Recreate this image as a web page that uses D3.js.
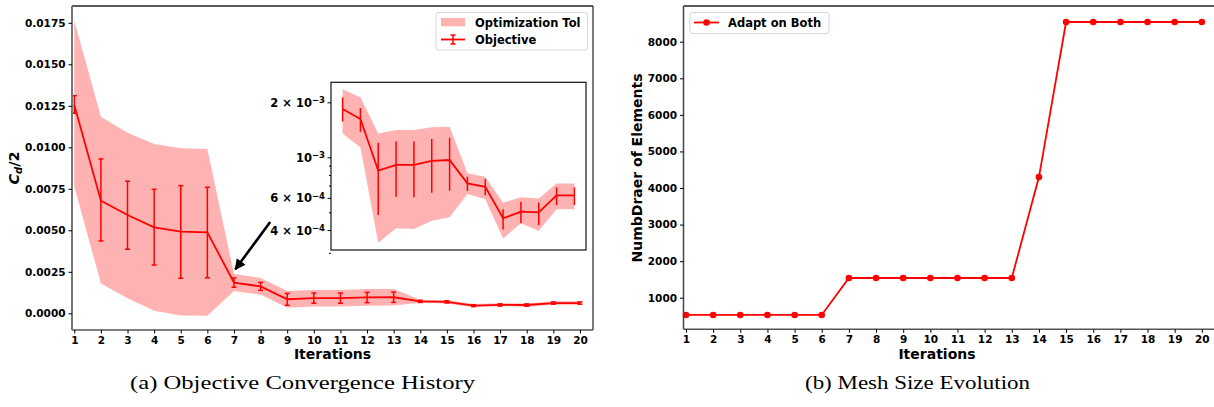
<!DOCTYPE html>
<html>
<head>
<meta charset="utf-8">
<style type="text/css">
    body { margin: 0; background: #fff; }
    svg { display: block; }
    text { font-family: "DejaVu Sans", sans-serif; font-weight: bold; fill: #000; }
    .tick text { font-size: 10.5px; }
    .domain { display: none; }
    .tick line { stroke: #000; stroke-width: 1; }
    .caption { font-family: "Liberation Serif", "DejaVu Serif", serif; font-weight: normal; font-size: 18px; }
</style>
<script src="https://d3js.org/d3.v7.min.js"></script>
</head>
<body>
<svg id="fig" width="1214" height="407"></svg>
<script type="text/javascript">
// values
const iterations = [1, 2, 3, 4, 5, 6, 7, 8, 9, 10, 11, 12, 13, 14, 15, 16, 17, 18, 19, 20];
const objective = [0.01255, 0.00678, 0.00592, 0.00518, 0.00492, 0.00488, 0.00184, 0.00162, 0.000845, 0.00091,
                   0.00091, 0.000955, 0.000967, 0.00072, 0.00069, 0.000464, 0.000504, 0.0005, 0.000619, 0.000619];
const errLow = [0.01205, 0.00436, 0.00386, 0.00291, 0.00211, 0.00214, 0.00157, 0.00138, 0.000483, 0.000608,
                0.000604, 0.00064, 0.000656, 0.000654, 0.00062, 0.000403, 0.000435, 0.000426, 0.000548, 0.000548];
const errHigh = [0.01311, 0.0093, 0.00796, 0.00747, 0.00769, 0.00759, 0.00213, 0.00186, 0.0012, 0.00122,
                 0.00122, 0.00126, 0.00128, 0.000783, 0.00076, 0.00052, 0.000571, 0.000566, 0.000685, 0.000685];
const tolLow = [0.00763, 0.0018, 0.0009, 0.00016, -0.00014, -0.00015, 0.00135, 0.00113, 0.000341, 0.000409,
                0.000405, 0.00045, 0.00047, 0.00063, 0.00059, 0.00036, 0.000435, 0.000396, 0.00052, 0.00052];
const tolHigh = [0.01763, 0.01184, 0.01088, 0.0102, 0.00994, 0.0099, 0.00236, 0.00213, 0.00135, 0.00141,
                 0.00141, 0.00146, 0.00147, 0.000817, 0.000783, 0.000565, 0.000604, 0.000596, 0.00072, 0.00072];
const numElements = [530, 530, 530, 530, 530, 530, 1540, 1540, 1540, 1540, 1540, 1540, 1540, 4300, 8540, 8540,
                     8540, 8540, 8540, 8540];

const cdTicks = [0, 0.0025, 0.005, 0.0075, 0.01, 0.0125, 0.015, 0.0175];
const insetTicks = [0.0004, 0.0006, 0.001, 0.002];
const insetTickLabels = [["4 \u00d7 10", "\u22124"], ["6 \u00d7 10", "\u22124"], ["10", "\u22123"], ["2 \u00d7 10", "\u22123"]];
const insetMinor = [0.0003, 0.0005, 0.0007, 0.0008, 0.0009];
const elemTicks = [1000, 2000, 3000, 4000, 5000, 6000, 7000, 8000];

const rows = iterations.map((it, i) => ({
    it: it, v: objective[i], lo: errLow[i], hi: errHigh[i], tlo: tolLow[i], thi: tolHigh[i], n: numElements[i]
}));
const insetRows = rows.filter(d => d.it >= 7);

const svg = d3.select('#fig');
const RED = '#ff0000';

function frame(g, x0, x1, y0, y1) {
    g.append('line').attr('x1', x0).attr('x2', x1).attr('y1', y0).attr('y2', y0).attr('stroke', '#222').attr('stroke-width', 1.3);
    g.append('line').attr('x1', x1).attr('x2', x1).attr('y1', y0).attr('y2', y1).attr('stroke', '#333').attr('stroke-width', 1.3);
    g.append('line').attr('x1', x0).attr('x2', x1).attr('y1', y1).attr('y2', y1).attr('stroke', '#555').attr('stroke-width', 1.6);
    g.append('line').attr('x1', x0).attr('x2', x0).attr('y1', y0).attr('y2', y1).attr('stroke', '#777').attr('stroke-width', 2);
}

/* ---------- panel (a) ---------- */
const xA = d3.scaleLinear().domain([0.914, 20.49]).range([72, 593]);
const yA = d3.scaleLinear().domain([-0.001006, 0.018512]).range([330, 6]);
const gA = svg.append('g');

gA.append('path')
    .datum(rows)
    .attr('fill', RED).attr('fill-opacity', 0.3)
    .attr('d', d3.area().x(d => xA(d.it)).y0(d => yA(d.tlo)).y1(d => yA(d.thi)));

gA.selectAll('line.err').data(rows).enter().append('line')
    .attr('class', 'err')
    .attr('x1', d => xA(d.it)).attr('x2', d => xA(d.it))
    .attr('y1', d => yA(d.lo)).attr('y2', d => yA(d.hi))
    .attr('stroke', RED).attr('stroke-width', 1.5);
['lo', 'hi'].forEach(k => {
    gA.selectAll('line.cap' + k).data(rows).enter().append('line')
        .attr('class', 'cap' + k)
        .attr('x1', d => xA(d.it) - 2.5).attr('x2', d => xA(d.it) + 2.5)
        .attr('y1', d => yA(d[k])).attr('y2', d => yA(d[k]))
        .attr('stroke', RED).attr('stroke-width', 1.5);
});
gA.append('path')
    .datum(rows)
    .attr('fill', 'none').attr('stroke', RED).attr('stroke-width', 1.8)
    .attr('d', d3.line().x(d => xA(d.it)).y(d => yA(d.v)));

frame(gA, 72, 593, 6, 330);

gA.append('g').attr('transform', 'translate(0,330)')
    .call(d3.axisBottom(xA).tickValues(iterations).tickFormat(d3.format('d')).tickSize(3.5).tickPadding(3));
gA.append('g').attr('transform', 'translate(72,0)')
    .call(d3.axisLeft(yA).tickValues(cdTicks).tickFormat(d3.format('.4f')).tickSize(3.5).tickPadding(3));

gA.append('text').attr('x', 332.5).attr('y', 359).attr('text-anchor', 'middle')
    .style('font-size', '14px').text('Iterations');
const yl = gA.append('text').attr('transform', 'translate(19,168) rotate(-90)').attr('text-anchor', 'middle')
    .style('font-size', '14.5px');
yl.append('tspan').style('font-style', 'italic').text('C');
yl.append('tspan').style('font-style', 'italic').style('font-size', '10px').attr('dy', 3).text('d');
yl.append('tspan').attr('dy', -3).text('/2');

// annotation arrow pointing at iteration 7
svg.append('defs').append('marker')
    .attr('id', 'head').attr('viewBox', '0 0 10 10').attr('refX', 9).attr('refY', 5)
    .attr('markerWidth', 4.2).attr('markerHeight', 4.2).attr('orient', 'auto')
    .append('path').attr('d', 'M0,0 L10,5 L0,10 z').attr('fill', '#000');
gA.append('line')
    .attr('x1', xA(8.36)).attr('y1', yA(0.0055))
    .attr('x2', xA(7.05)).attr('y2', yA(0.00265))
    .attr('stroke', '#000').attr('stroke-width', 2.6).attr('marker-end', 'url(#head)');

// legend (a)
const legA = gA.append('g');
legA.append('rect').attr('x', 436).attr('y', 12.5).attr('width', 151.5).attr('height', 37.5).attr('rx', 2.5)
    .attr('fill', '#fff').attr('fill-opacity', 0.8).attr('stroke', '#d6d6d6');
legA.append('rect').attr('x', 441).attr('y', 18).attr('width', 24).attr('height', 8.3)
    .attr('fill', RED).attr('fill-opacity', 0.3);
legA.append('text').attr('x', 475).attr('y', 26.5).style('font-size', '11.5px').text('Optimization Tol');
legA.append('line').attr('x1', 441).attr('x2', 465).attr('y1', 39.5).attr('y2', 39.5).attr('stroke', RED).attr('stroke-width', 1.8);
legA.append('line').attr('x1', 453).attr('x2', 453).attr('y1', 35).attr('y2', 44).attr('stroke', RED).attr('stroke-width', 1.5);
legA.append('line').attr('x1', 450.5).attr('x2', 455.5).attr('y1', 35).attr('y2', 35).attr('stroke', RED).attr('stroke-width', 1.5);
legA.append('line').attr('x1', 450.5).attr('x2', 455.5).attr('y1', 44).attr('y2', 44).attr('stroke', RED).attr('stroke-width', 1.5);
legA.append('text').attr('x', 475).attr('y', 43.5).style('font-size', '11.5px').text('Objective');

/* ---------- inset (log scale) ---------- */
const xI = d3.scaleLinear().domain([6.35, 20.65]).range([331, 586]);
const yI = d3.scaleLog().domain([0.000311, 0.002574]).range([250, 82.3]);
const gI = gA.append('g');
gI.append('rect').attr('x', 331).attr('y', 82.3).attr('width', 255).attr('height', 167.7).attr('fill', '#fff');
gI.append('path')
    .datum(insetRows)
    .attr('fill', RED).attr('fill-opacity', 0.3)
    .attr('d', d3.area().x(d => xI(d.it)).y0(d => yI(d.tlo)).y1(d => yI(d.thi)));
gI.selectAll('line.err').data(insetRows).enter().append('line')
    .attr('class', 'err')
    .attr('x1', d => xI(d.it)).attr('x2', d => xI(d.it))
    .attr('y1', d => yI(d.lo)).attr('y2', d => yI(d.hi))
    .attr('stroke', RED).attr('stroke-width', 1.5);
gI.append('path')
    .datum(insetRows)
    .attr('fill', 'none').attr('stroke', RED).attr('stroke-width', 1.8)
    .attr('d', d3.line().x(d => xI(d.it)).y(d => yI(d.v)));
gI.append('rect').attr('x', 331).attr('y', 82.3).attr('width', 255).attr('height', 167.7)
    .attr('fill', 'none').attr('stroke', '#111').attr('stroke-width', 1.2);

gI.append('g').attr('transform', 'translate(331,0)')
    .call(d3.axisLeft(yI).tickValues(insetMinor).tickFormat('').tickSize(2));
const insAx = gI.append('g').attr('transform', 'translate(331,0)')
    .call(d3.axisLeft(yI).tickValues(insetTicks).tickFormat('').tickSize(3.5));
insAx.selectAll('.tick').each(function(d, i) {
    const t = d3.select(this).append('text').attr('x', -6).attr('dy', '0.36em').attr('text-anchor', 'end')
        .style('font-size', '11.5px');
    t.append('tspan').text(insetTickLabels[i][0]);
    t.append('tspan').attr('dy', '-0.45em').style('font-size', '8.5px').text(insetTickLabels[i][1]);
});

/* ---------- panel (b) ---------- */
const xB = d3.scaleLinear().domain([0.908, 20.5]).range([683.5, 1215.4]);
const yB = d3.scaleLinear().domain([137, 8977]).range([329.3, 6]);
const gB = svg.append('g');

gB.append('path')
    .datum(rows)
    .attr('fill', 'none').attr('stroke', RED).attr('stroke-width', 1.8)
    .attr('d', d3.line().x(d => xB(d.it)).y(d => yB(d.n)));
gB.selectAll('circle').data(rows).enter().append('circle')
    .attr('cx', d => xB(d.it)).attr('cy', d => yB(d.n)).attr('r', 3.3).attr('fill', RED);

gB.append('line').attr('x1', 683.5).attr('x2', 1214).attr('y1', 6).attr('y2', 6).attr('stroke', '#222').attr('stroke-width', 1.3);
gB.append('line').attr('x1', 683.5).attr('x2', 1214).attr('y1', 329.3).attr('y2', 329.3).attr('stroke', '#555').attr('stroke-width', 1.4);
gB.append('line').attr('x1', 683.5).attr('x2', 683.5).attr('y1', 6).attr('y2', 329.3).attr('stroke', '#444').attr('stroke-width', 1.5);

gB.append('g').attr('transform', 'translate(0,329.3)')
    .call(d3.axisBottom(xB).tickValues(iterations).tickFormat(d3.format('d')).tickSize(3.5).tickPadding(3));
gB.append('g').attr('transform', 'translate(683.5,0)')
    .call(d3.axisLeft(yB).tickValues(elemTicks).tickFormat(d3.format('d')).tickSize(3.5).tickPadding(3));

gB.append('text').attr('x', 937).attr('y', 359).attr('text-anchor', 'middle')
    .style('font-size', '14px').text('Iterations');
gB.append('text').attr('transform', 'translate(642,168) rotate(-90)').attr('text-anchor', 'middle')
    .style('font-size', '14px').text('NumbDraer of Elements');

// legend (b)
const legB = gB.append('g');
legB.append('rect').attr('x', 690).attr('y', 12.5).attr('width', 139).attr('height', 21).attr('rx', 2.5)
    .attr('fill', '#fff').attr('fill-opacity', 0.8).attr('stroke', '#d6d6d6');
legB.append('line').attr('x1', 694).attr('x2', 719).attr('y1', 22.5).attr('y2', 22.5).attr('stroke', RED).attr('stroke-width', 1.8);
legB.append('circle').attr('cx', 706.5).attr('cy', 22.5).attr('r', 3.3).attr('fill', RED);
legB.append('text').attr('x', 728).attr('y', 27).style('font-size', '11.5px').text('Adapt on Both');

/* ---------- captions ---------- */
svg.append('text').attr('class', 'caption').attr('x', 130).attr('y', 389)
    .attr('textLength', 345).attr('lengthAdjust', 'spacingAndGlyphs')
    .text('(a) Objective Convergence History');
svg.append('text').attr('class', 'caption').attr('x', 805).attr('y', 389)
    .attr('textLength', 225).attr('lengthAdjust', 'spacingAndGlyphs')
    .text('(b) Mesh Size Evolution');
</script>
</body>
</html>
